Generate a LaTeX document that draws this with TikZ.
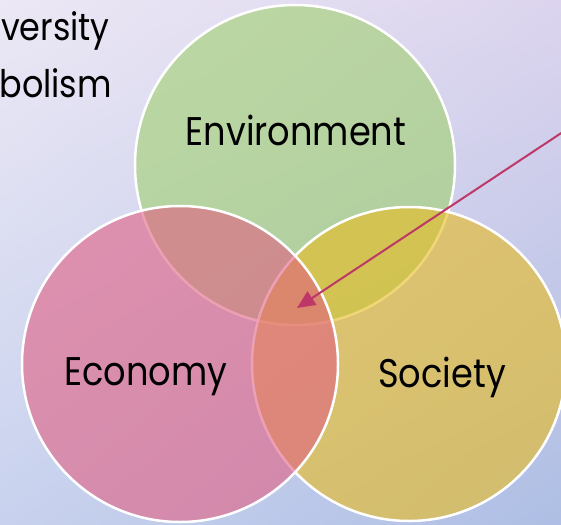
\documentclass[tikz,border=0pt]{standalone}
\usepackage{fontspec}
\setsansfont[FakeStretch=0.88]{Poppins}
\usetikzlibrary{arrows.meta,positioning,shadings}

\definecolor{bgtl}{RGB}{236,232,245}
\definecolor{bgtr}{RGB}{220,212,238}
\definecolor{bgbl}{RGB}{200,210,238}
\definecolor{bgbr}{RGB}{174,190,228}
\definecolor{envgreen}{RGB}{160,209,110}
\definecolor{ecopink}{RGB}{225,95,130}
\definecolor{socyellow}{RGB}{232,187,30}
\definecolor{arrowred}{RGB}{190,55,105}

\begin{document}
\begin{tikzpicture}[x=1pt,y=-1pt,
            venn/.style={circle, draw=white, line width=2.5pt, fill opacity=0.6, draw opacity=1, inner sep=0pt},
            every node/.style={font=\sffamily},
            caption/.style={inner sep=0pt, font=\sffamily\fontsize{40}{44}\selectfont},
            title/.style={inner sep=0pt, font=\sffamily\fontsize{38}{42}\selectfont},
            pointer/.style={-{Triangle[length=18pt,width=16pt]}, line width=2pt, draw=arrowred, fill=arrowred}
  ]

  % frame and background
  \clip (0,0) rectangle (561,524);
  \shade[upper left=bgtl, upper right=bgtr, lower left=bgbl, lower right=bgbr] (0,0) rectangle (561,524);

  % cut-off title lines
  \node[title, anchor=base east] (line1) at (110,41) {versity};
  \node[title, anchor=base east] (line2) at (112,98) {bolism};

  % the three circles (pink lies on top)
  \node[venn, fill=envgreen, minimum size=320pt] (env) at (295,165) {};
  \node[venn, fill=socyellow, minimum size=314pt] (soc) at (409,364) {};
  \node[venn, fill=ecopink, minimum size=316pt] (eco) at (180,364) {};

  \node[caption, anchor=base] (envtext) at (296,145) {Environment};
  \node[caption, anchor=base] (ecotext) at (146,385) {Economy};
  \node[caption, anchor=base] (soctext) at (442,387) {Society};

  % pointer into the common part
  \coordinate (tag) at (590,114);
  \coordinate (core) at (297,308);
  \draw[pointer] (tag) -- (core);

\end{tikzpicture}
\end{document}
